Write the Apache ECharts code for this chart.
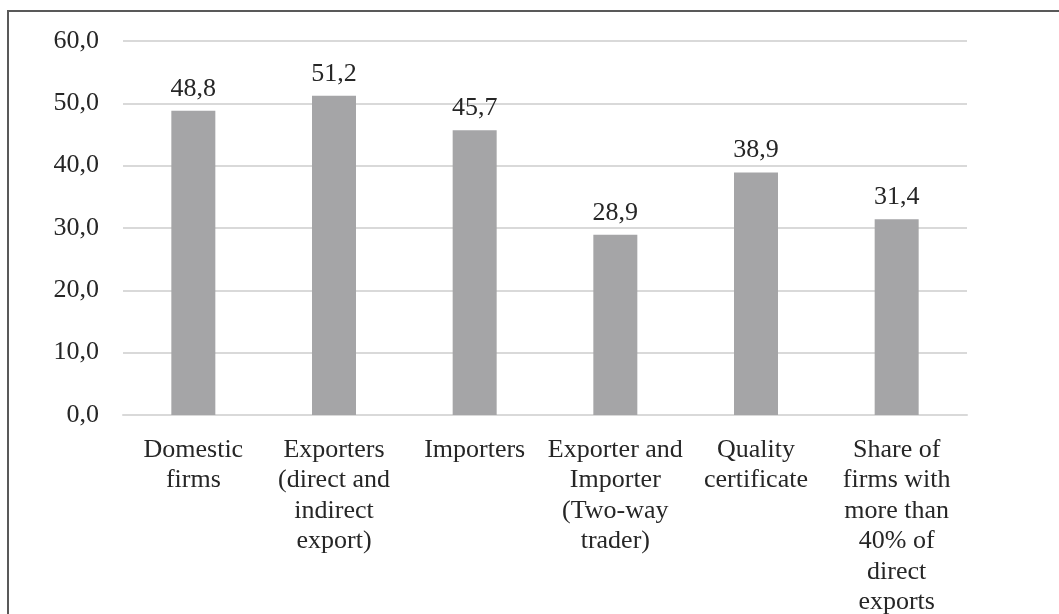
<!DOCTYPE html>
<html>
<head>
<meta charset="utf-8">
<script src="https://cdn.jsdelivr.net/npm/echarts@6/dist/echarts.min.js"></script>
<style>
  html, body { margin: 0; padding: 0; background: #fff; }
  #chart { width: 1059px; height: 614px; }
</style>
</head>
<body>
<div id="chart"></div>
<script>
// Firm groups along the x axis (line breaks as printed)
const categories = [
  'Domestic\nfirms',
  'Exporters\n(direct and\nindirect\nexport)',
  'Importers',
  'Exporter and\nImporter\n(Two-way\ntrader)',
  'Quality\ncertificate',
  'Share of\nfirms with\nmore than\n40% of\ndirect\nexports'
];
// Percentage values for each group
const values = [48.8, 51.2, 45.7, 28.9, 38.9, 31.4];
// Value axis range and step
const yMin = 0;
const yMax = 60;
const yStep = 10;

const FONT = "'Liberation Serif', 'Times New Roman', serif";
const TEXT = '#262626';
const fmt = v => Number(v).toFixed(1).replace('.', ',');

const chart = echarts.init(document.getElementById('chart'), null, { renderer: 'canvas' });
chart.setOption({
  animation: false,
  backgroundColor: '#ffffff',
  textStyle: { fontFamily: FONT },
  graphic: [{
    type: 'polyline',
    shape: { points: [[8, 700], [8, 11], [1100, 11]] },
    style: { stroke: '#595959', lineWidth: 2, fill: null },
    silent: true
  }],
  grid: {
    left: 123, right: 92, top: 41, bottom: 199,
    containLabel: false,
    outerBoundsMode: 'none'
  },
  xAxis: {
    type: 'category',
    data: categories,
    axisLine: { show: true, lineStyle: { color: '#d9d9d9', width: 2 } },
    axisTick: { show: false },
    axisLabel: {
      interval: 0,
      margin: 20,
      color: TEXT,
      fontFamily: FONT,
      fontSize: 26,
      lineHeight: 30.4,
      align: 'center'
    }
  },
  yAxis: {
    type: 'value',
    min: yMin,
    max: yMax,
    interval: yStep,
    axisLine: { show: false },
    axisTick: { show: false },
    splitLine: { lineStyle: { color: '#d9d9d9', width: 2 } },
    axisLabel: {
      margin: 24,
      color: TEXT,
      fontFamily: FONT,
      fontSize: 26,
      padding: [4, 0, 0, 0],
      formatter: fmt
    }
  },
  series: [{
    type: 'bar',
    data: values,
    barWidth: 44,
    itemStyle: { color: '#a5a5a7' },
    label: {
      show: true,
      position: 'top',
      distance: 9,
      color: TEXT,
      fontFamily: FONT,
      fontSize: 26,
      formatter: p => fmt(p.value)
    }
  }]
});
</script>
</body>
</html>
